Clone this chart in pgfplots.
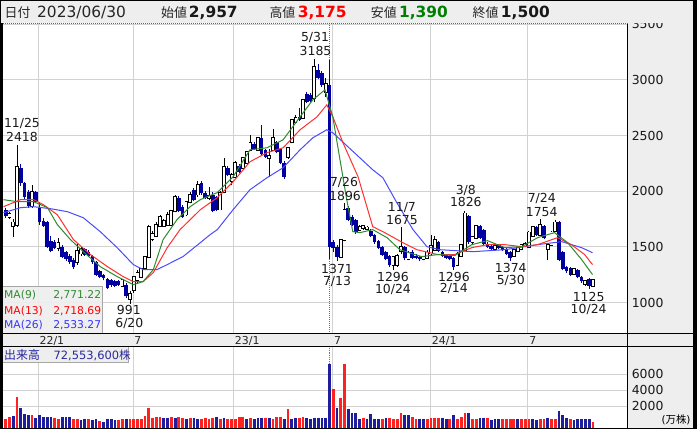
\documentclass[border=0pt]{standalone}
\usepackage{pgfplots}
\pgfplotsset{compat=1.18}
\usepackage{pgfplotstable}
\usepackage{fontspec}
\setmainfont{DejaVu Sans}
\newfontfamily\jp{Noto Sans CJK JP}
\definecolor{panel}{HTML}{EEEEEE}
\definecolor{gridc}{HTML}{D2D2D2}
\definecolor{cblue}{HTML}{0000A0}
\definecolor{vred}{HTML}{FF2020}
\definecolor{vblue}{HTML}{1E1E9C}
\definecolor{magreen}{HTML}{2E8B2E}
\definecolor{mared}{HTML}{FF3030}
\definecolor{mablue}{HTML}{4A4AFF}
\definecolor{txtblue}{HTML}{2828A0}
\definecolor{hgreen}{HTML}{008000}

\pgfplotstableread{
w o h l c
-8 1770 1810 1750 1795
-7 1690 1750 1590 1720
-6 1700 2418 1680 2220
-2 1870 2060 1850 1990
5 1490 1580 1460 1535
10 1360 1530 1340 1460
11 1440 1500 1420 1480
22 1150 1210 1140 1200
24 1030 1100 991 1080
25 1110 1240 1090 1230
26 1200 1290 1180 1270
27 1230 1310 1220 1300
28 1310 1420 1300 1410
29 1410 1700 1400 1680
30 1570 1640 1550 1620
31 1600 1720 1590 1700
32 1690 1790 1680 1770
33 1690 1750 1680 1730
34 1700 1810 1690 1790
35 1700 1830 1690 1820
36 1820 1970 1810 1950
39 1790 1910 1780 1900
40 1900 1990 1890 1970
42 1970 2090 1950 2060
45 1940 2040 1920 1960
48 1835 2000 1830 1985
49 1990 2300 1980 2220
51 2090 2160 2060 2150
52 2130 2270 2120 2255
54 2210 2310 2200 2300
55 2255 2365 2245 2355
56 2370 2507 2360 2435
58 2370 2490 2360 2480
61 2300 2380 2130 2320
62 2370 2560 2360 2480
66 2310 2400 2290 2390
67 2440 2650 2430 2640
68 2620 2680 2610 2660
70 2660 2830 2650 2820
73 2840 3185 2800 3120
76 2890 3020 2850 2960
80 1410 1570 1400 1560
81 1560 1896 1550 1835
85 1650 1700 1640 1680
86 1670 1700 1650 1690
87 1660 1690 1650 1675
94 1340 1420 1296 1410
95 1340 1440 1320 1420
96 1460 1675 1440 1500
98 1390 1460 1380 1450
102 1390 1420 1380 1410
103 1400 1470 1390 1450
104 1440 1610 1430 1510
105 1470 1600 1460 1560
111 1340 1450 1330 1440
112 1420 1530 1410 1520
113 1470 1826 1460 1800
115 1540 1600 1520 1590
116 1580 1700 1570 1690
121 1480 1520 1470 1510
126 1420 1480 1410 1470
127 1460 1500 1450 1490
128 1480 1530 1470 1520
129 1510 1540 1500 1530
130 1500 1640 1490 1630
131 1600 1690 1590 1680
133 1610 1754 1600 1700
135 1480 1530 1380 1520
136 1520 1640 1510 1630
137 1640 1740 1630 1720
142 1260 1310 1250 1300
145 1170 1200 1150 1195
147 1150 1210 1140 1200
}\upc

\pgfplotstableread{
w o h l c
-9 1830 1850 1760 1780
-5 2210 2240 2050 2075
-4 2070 2085 1930 1950
-3 1990 2010 1850 1870
-1 1990 2000 1890 1900
0 1850 1900 1700 1720
1 1730 1760 1680 1690
2 1720 1730 1490 1500
3 1550 1600 1450 1460
4 1540 1560 1480 1490
6 1500 1520 1400 1410
7 1450 1460 1370 1390
8 1420 1440 1350 1360
9 1385 1400 1300 1320
12 1480 1490 1420 1430
13 1450 1470 1410 1420
14 1420 1430 1350 1360
15 1360 1370 1240 1250
16 1280 1290 1220 1230
17 1250 1260 1200 1220
18 1210 1220 1120 1135
19 1200 1210 1140 1155
20 1190 1200 1140 1150
21 1190 1200 1150 1160
23 1160 1180 1040 1055
37 1940 1960 1810 1820
38 1860 1880 1760 1770
41 2010 2030 1910 1920
43 2075 2090 1970 1985
44 1985 2000 1930 1940
46 1970 1990 1810 1820
47 1950 1960 1820 1835
50 2210 2230 2140 2150
53 2230 2240 2160 2170
57 2420 2440 2370 2380
59 2480 2597 2320 2330
60 2370 2380 2300 2310
63 2440 2450 2340 2350
64 2380 2390 2240 2250
65 2255 2270 2110 2130
69 2670 2750 2630 2640
71 2870 2890 2790 2800
72 2860 2880 2800 2810
74 3090 3140 3010 3020
75 3060 3080 2940 2955
77 2957 3175 1390 1500
78 1540 1560 1450 1490
79 1500 1520 1371 1410
82 1850 1870 1730 1745
83 1770 1790 1690 1700
84 1740 1750 1620 1630
88 1640 1660 1590 1600
89 1610 1620 1530 1540
90 1550 1560 1480 1490
91 1500 1510 1420 1430
92 1450 1460 1380 1390
93 1420 1430 1320 1340
97 1500 1510 1380 1400
99 1450 1470 1390 1400
100 1420 1440 1390 1400
101 1410 1420 1370 1390
106 1540 1550 1450 1460
107 1450 1460 1410 1420
108 1430 1440 1390 1400
109 1420 1430 1380 1395
110 1400 1410 1296 1320
114 1780 1790 1530 1540
117 1690 1700 1570 1580
118 1650 1660 1520 1530
119 1530 1540 1490 1500
120 1510 1520 1470 1480
122 1520 1530 1480 1490
123 1500 1510 1460 1470
124 1480 1490 1430 1440
125 1450 1460 1374 1400
132 1680 1690 1600 1610
134 1690 1700 1570 1580
138 1725 1730 1370 1385
139 1450 1460 1290 1300
140 1320 1330 1270 1280
141 1310 1320 1240 1250
143 1290 1300 1220 1230
144 1230 1240 1180 1190
146 1210 1220 1125 1150
}\dnc

\pgfplotstableread{
w v
-9 460
-8 670
-6 3210
-2 900
4 583
5 375
9 458
10 458
13 375
16 167
21 290
22 375
24 375
25 375
26 375
27 375
28 800
29 1820
30 583
31 670
32 708
35 708
37 620
38 540
40 583
43 375
44 583
45 458
46 583
48 375
50 375
51 375
52 375
53 708
54 708
56 540
60 583
62 458
63 660
64 708
66 1650
69 583
70 708
78 4200
80 3000
81 7250
86 583
91 458
93 500
94 458
95 400
96 1210
99 620
100 458
103 458
104 500
105 583
106 583
109 458
111 458
112 708
113 1210
115 375
116 458
119 583
123 375
124 458
125 375
126 375
128 375
129 375
130 375
133 375
134 458
136 458
137 375
141 375
147 100
}\volr

\pgfplotstableread{
w v
-7 750
-5 1840
-4 1010
-3 900
-1 600
0 900
1 670
2 650
3 650
6 620
7 620
8 620
11 290
12 375
14 290
15 375
17 100
18 458
19 375
20 330
23 458
33 500
34 583
36 500
39 458
41 500
42 375
47 708
49 500
55 375
57 375
58 583
59 583
61 583
65 458
67 375
68 500
71 500
72 458
73 583
74 583
75 583
76 583
77 7255
79 1820
82 1700
83 1200
84 1150
85 458
87 458
88 1000
89 375
90 375
92 583
97 875
98 875
101 458
102 458
107 583
108 458
110 875
114 1210
117 583
118 583
120 330
121 375
122 375
127 375
131 375
132 290
135 583
138 1400
139 875
140 540
142 290
143 375
144 375
145 375
146 375
}\volb

\pgfplotsset{
  panel axis/.style={
    scale only axis, width=625.3bp, xmin=-9.6, xmax=156.3,
    axis line style={draw=none}, tick style={draw=none},
    xtick={-0.4,24.8,51.5,77.85,103.85,129.7},
    grid=major, major grid style={draw=gridc, line width=0.9bp},
    yticklabel pos=right,
    yticklabel style={font=\fontsize{12.5}{14}\selectfont, text=black!90, anchor=west, inner sep=0pt, xshift=3.7bp},
    /pgf/number format/assume math mode=true,
    /pgf/number format/1000 sep={},
    scaled y ticks=false,
  },
  nomark/.style={only marks, mark=none, mark size=0pt, mark options={draw=none, fill=none}, forget plot},
  wick/.style={nomark, error bars/.cd, y dir=plus, y explicit, error mark=none, error bar style={draw=#1, line width=0.9bp}},
  body/.style 2 args={nomark, error bars/.cd, y dir=plus, y explicit, error mark=none, error bar style={draw=#1, line width=#2}},
  vbar/.style={nomark, error bars/.cd, y dir=minus, y explicit, error mark=none, error bar style={draw=#1, line width=2.8bp}},
}

\newcommand\lf{\fontsize{12.5}{14}\selectfont}
\newcommand\mf{\fontsize{10.8}{12}\selectfont}
\newcommand\hf{\fontsize{15.5}{17}\selectfont}
\newcommand\hj{\jp\fontsize{13}{15}\selectfont}
\newcommand\lab[3]{\node[anchor=base, inner sep=0pt, font=\lf, text=black!90] at (#1,{425.5-#2}) {#3};}

\begin{document}
\begin{tikzpicture}[x=1bp,y=1bp]
\fill[white] (0,0) rectangle (697,430);
\fill[panel] (628.3,0) rectangle (697,430);
\fill[panel] (0,83) rectangle (697,96);

% ---------- price panel ----------
\begin{axis}[panel axis, at={(3bp,96bp)}, anchor=south west, height=311bp,
  ymin=722, ymax=3511, ytick={1000,1500,2000,2500,3000,3500},
  xticklabels={22/1,7,23/1,7,24/1,7},
  xticklabel style={font=\fontsize{11}{13}\selectfont, text=black!85, anchor=north west, inner sep=0pt, xshift=1.3bp, yshift=-2.8bp},
]
\draw[black!55, dash pattern=on 1bp off 1bp, line width=0.8bp] (axis cs:77,722) -- (axis cs:77,3511);
\addplot[wick=cblue] table[x=w, y=l, y error plus expr=\thisrow{h}-\thisrow{l}] {\dnc};
\addplot[wick=black] table[x=w, y=l, y error plus expr=\thisrow{h}-\thisrow{l}] {\upc};
\addplot[body={cblue}{3.6bp}] table[x=w, y=c, y error plus expr=\thisrow{o}-\thisrow{c}] {\dnc};
\addplot[body={black}{3.8bp}] table[x=w, y expr=\thisrow{o}-8, y error plus expr=\thisrow{c}-\thisrow{o}+16] {\upc};
\addplot[body={white}{2.1bp}] table[x=w, y=o, y error plus expr=\thisrow{c}-\thisrow{o}] {\upc};
\addplot[mablue, line width=1bp] coordinates {(-9.6,1807) (-5.1,1852) (-1.6,1861) (2.9,1843) (7.4,1816) (11.6,1762) (16.1,1637) (20.6,1493) (24.9,1341) (27.5,1296) (31.2,1296) (33.9,1341) (38.1,1413) (42.7,1538) (45.3,1610) (47.2,1655) (51.4,1834) (55.9,2014) (60.4,2121) (64.7,2211) (69.2,2372) (72.6,2480) (76.3,2552) (77.9,2525) (88.5,2193) (91.2,2121) (94.9,1897) (99.2,1655) (102.9,1502) (106.3,1475) (115.1,1457) (123.6,1475) (132.3,1520) (138.7,1547) (144.0,1493) (146.9,1448)};
\addplot[mared, line width=1bp] coordinates {(-9.6,1861) (-5.1,1924) (-1.6,1924) (1.0,1879) (4.7,1789) (9.0,1565) (13.5,1431) (18.0,1323) (22.2,1233) (24.9,1188) (27.5,1188) (30.2,1269) (33.9,1493) (37.3,1655) (40.8,1771) (42.7,1834) (45.3,1897) (47.2,1942) (51.4,2085) (55.9,2265) (60.4,2346) (64.7,2390) (69.2,2552) (73.7,2668) (76.3,2776) (77.9,2668) (80.6,2435) (84.6,2130) (88.5,1682) (91.7,1628) (96.5,1538) (100.2,1475) (105.8,1431) (110.3,1431) (114.8,1493) (119.0,1520) (123.6,1520) (128.1,1502) (132.3,1520) (137.6,1583) (141.3,1520) (144.8,1431) (146.9,1341)};
\addplot[magreen, line width=1bp] coordinates {(-9.6,1924) (-5.9,1906) (-1.6,1906) (2.1,1852) (4.7,1700) (8.2,1565) (11.6,1457) (16.1,1323) (20.6,1233) (24.9,1161) (27.5,1188) (30.2,1296) (32.8,1565) (36.5,1745) (40.0,1861) (42.7,1924) (44.5,1951) (47.2,1987) (51.4,2130) (55.9,2372) (60.4,2390) (64.7,2462) (69.2,2668) (72.6,2821) (75.8,2911) (77.9,2668) (79.8,2283) (81.6,1924) (83.2,1637) (85.1,1628) (88.5,1655) (92.3,1583) (95.7,1475) (99.7,1431) (101.5,1413) (105.8,1431) (110.3,1422) (114.8,1520) (119.0,1556) (123.6,1493) (128.1,1502) (132.3,1583) (136.8,1628) (140.3,1538) (144.0,1386) (146.9,1251)};
\end{axis}

% ---------- volume panel ----------
\begin{axis}[panel axis, at={(3bp,1bp)}, anchor=south west, height=82bp,
  ymin=-750, ymax=9500, ytick={2000,4000,6000}, xticklabels={}]
\draw[black!55, dash pattern=on 1bp off 1bp, line width=0.8bp] (axis cs:77,-750) -- (axis cs:77,9500);
\addplot[vbar=vred] table[x=w, y=v, y error minus expr=\thisrow{v}+750] {\volr};
\addplot[vbar=vblue] table[x=w, y=v, y error minus expr=\thisrow{v}+750] {\volb};
\end{axis}

% ---------- frame ----------
\draw[black, line width=1bp] (0,96) -- (697,96);
\draw[black, line width=1bp] (0,83) -- (697,83);
\draw[black, line width=1bp] (628.3,0) -- (628.3,407);
\fill[black] (0,0) rectangle (697,1);
\fill[black] (0,0) rectangle (2.7,407);
\draw[black!60, dash pattern=on 1bp off 1bp, line width=1bp] (3,406.5) -- (628.3,406.5);

% ---------- header ----------
\fill[panel] (0,407) rectangle (697,430);
\fill[black] (0,429) rectangle (697,430);
\fill[black] (0,407) rectangle (1,430);
\fill[black] (693.5,0) rectangle (697,430);
\node[anchor=base west, inner sep=0pt, text=black!85] at (4,412) {\hj 日付};
\node[anchor=base west, inner sep=0pt, text=black!85] at (36.5,412) {\hf 2023/06/30};
\node[anchor=base east, inner sep=0pt, text=black!85] at (187,412) {\hj 始値};
\node[anchor=base west, inner sep=0pt, text=black!90] at (188.5,412) {\hf\bfseries 2,957};
\node[anchor=base east, inner sep=0pt, text=black!85] at (295.5,412) {\hj 高値};
\node[anchor=base west, inner sep=0pt, text=red] at (297.5,412) {\hf\bfseries 3,175};
\node[anchor=base east, inner sep=0pt, text=black!85] at (397,412) {\hj 安値};
\node[anchor=base west, inner sep=0pt, text=hgreen] at (399,412) {\hf\bfseries 1,390};
\node[anchor=base east, inner sep=0pt, text=black!85] at (499,412) {\hj 終値};
\node[anchor=base west, inner sep=0pt, text=black!90] at (501,412) {\hf\bfseries 1,500};

% ---------- annotations ----------
\lab{21.5}{123}{11/25}
\lab{21.5}{137}{2418}
\lab{315}{37}{5/31}
\lab{315.5}{51}{3185}
\lab{344}{182}{7/26}
\lab{345}{196}{1896}
\lab{337}{269}{1371}
\lab{337}{281}{7/13}
\lab{402}{207}{11/7}
\lab{402}{220}{1675}
\lab{393}{277}{1296}
\lab{393}{289}{10/24}
\lab{466}{190}{3/8}
\lab{466}{202}{1826}
\lab{454}{277}{1296}
\lab{454}{288}{2/14}
\lab{511}{268}{1374}
\lab{511}{280}{5/30}
\lab{542}{198}{7/24}
\lab{542}{212}{1754}
\lab{589}{297}{1125}
\lab{589}{309}{10/24}
\lab{128.5}{310}{991}
\lab{129}{323}{6/20}

% ---------- MA legend ----------
\fill[panel, opacity=0.9] (3,97) rectangle (101.7,143.3);
\draw[black!35, line width=0.8bp] (3,143.3) -- (101.7,143.3) -- (101.7,97);
\node[anchor=base west, inner sep=0pt, font=\mf, text=magreen] at (3.5,131.1) {MA(9)};
\node[anchor=base east, inner sep=0pt, font=\mf, text=magreen] at (101,131.1) {2,771.22};
\node[anchor=base west, inner sep=0pt, font=\mf, text=red] at (3.5,115.1) {MA(13)};
\node[anchor=base east, inner sep=0pt, font=\mf, text=red] at (101,115.1) {2,718.69};
\node[anchor=base west, inner sep=0pt, font=\mf, text=blue!80!white] at (3.5,101.1) {MA(26)};
\node[anchor=base east, inner sep=0pt, font=\mf, text=blue!80!white] at (101,101.1) {2,533.27};

% ---------- volume label ----------
\fill[panel] (3,67) rectangle (128,82.5);
\draw[black!35, line width=0.8bp] (3,67) -- (128,67) -- (128,82.5);
\node[anchor=base west, inner sep=0pt, text=txtblue] at (3.5,70) {\jp\fontsize{12}{14}\selectfont 出来高};
\node[anchor=base west, inner sep=0pt, text=txtblue, font=\fontsize{11.5}{13}\selectfont] at (53,70) {72,553,600{\jp 株}};
\node[anchor=base, inner sep=0pt, font=\fontsize{10.5}{12}\selectfont] at (676.5,6) {({\jp 万株})};
\end{tikzpicture}
\end{document}
